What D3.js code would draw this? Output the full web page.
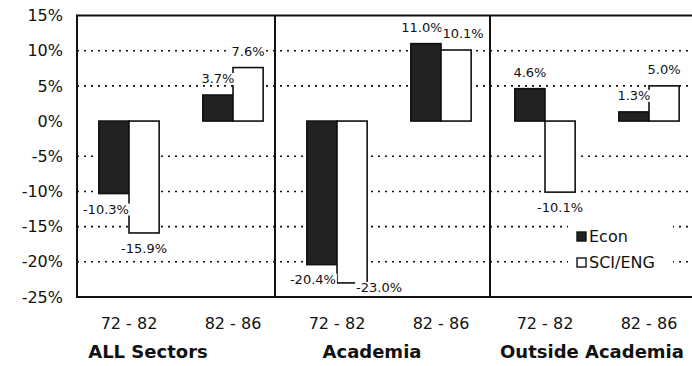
<!DOCTYPE html>
<html>
<head>
<meta charset="utf-8">
<script src="https://cdn.jsdelivr.net/npm/d3@7"></script>
<style>
  body { margin: 0; background: #fff; }
  svg { display: block; font-family: "DejaVu Sans", sans-serif; }
</style>
</head>
<body>
<div id="chart"></div>
<script>
// data
var periods = ["72 - 82", "82 - 86", "72 - 82", "82 - 86", "72 - 82", "82 - 86"];
var sectors = ["ALL Sectors", "Academia", "Outside Academia"];
var seriesNames = ["Econ", "SCI/ENG"];
var econValues = [-10.3, 3.7, -20.4, 11.0, 4.6, 1.3];
var sciValues = [-15.9, 7.6, -23.0, 10.1, -10.1, 5.0];
var yTicks = [15, 10, 5, 0, -5, -10, -15, -20, -25];
var gridTicks = [10, 5, -5, -10, -15, -20];

var width = 692, height = 366;
var margin = {top: 15.5, right: 0, bottom: 69, left: 77};
var innerWidth = width - margin.left - margin.right;
var innerHeight = height - margin.top - margin.bottom;
// the scanned plot area runs a little past the right edge of the picture
var plotWidth = innerWidth + 9;

var svg = d3.select("#chart").append("svg")
    .attr("width", width)
    .attr("height", height);
var chartGroup = svg.append("g")
    .attr("transform", "translate(" + margin.left + "," + margin.top + ")");

var keys = periods.map(function(d, i) { return i; });
var xScale = d3.scaleBand()
    .domain(keys)
    .range([0, plotWidth])
    .paddingInner(0.42)
    .paddingOuter(0.21);
var xInner = d3.scaleBand()
    .domain(seriesNames)
    .range([0, xScale.bandwidth()]);
var yScale = d3.scaleLinear()
    .domain([-25, 15])
    .range([innerHeight, 0]);

// dotted gridlines
chartGroup.append("g").selectAll("line").data(gridTicks)
    .enter().append("line")
    .attr("x1", 0)
    .attr("x2", innerWidth)
    .attr("y1", function(d) { return yScale(d); })
    .attr("y2", function(d) { return yScale(d); })
    .attr("stroke", "#111")
    .attr("stroke-width", 1.6)
    .attr("stroke-dasharray", "2,5");

// y axis labels
var yAxis = d3.axisLeft(yScale)
    .tickValues(yTicks)
    .tickSize(0)
    .tickPadding(14)
    .tickFormat(function(d) { return d + "%"; });
var yAxisG = chartGroup.append("g").call(yAxis);
yAxisG.select(".domain").remove();
yAxisG.selectAll("text")
    .attr("font-family", "DejaVu Sans, sans-serif")
    .attr("font-size", 16)
    .attr("fill", "#111");

// bars
var rows = keys.map(function(i) {
    return [
        {key: i, series: "Econ", value: econValues[i]},
        {key: i, series: "SCI/ENG", value: sciValues[i]}
    ];
});
var barGroups = chartGroup.append("g").selectAll("g").data(rows)
    .enter().append("g")
    .attr("transform", function(d, i) { return "translate(" + xScale(i) + ",0)"; });
barGroups.selectAll("rect").data(function(d) { return d; })
    .enter().append("rect")
    .attr("x", function(d) { return xInner(d.series); })
    .attr("width", xInner.bandwidth())
    .attr("y", function(d) { return yScale(Math.max(0, d.value)); })
    .attr("height", function(d) { return Math.abs(yScale(d.value) - yScale(0)); })
    .attr("fill", function(d) { return d.series === "Econ" ? "#222" : "#fff"; })
    .attr("stroke", "#111")
    .attr("stroke-width", 1.6);

// value labels (small nudges where the original moved them)
var labelNudge = {"0-Econ": [-8, 0], "2-Econ": [-9, -1], "2-SCI/ENG": [27, -11], "3-Econ": [-4, 0], "3-SCI/ENG": [7, 0]};
var labels = barGroups.selectAll("g.lbl").data(function(d) { return d; })
    .enter().append("g")
    .attr("class", "lbl");
labels.append("text")
    .attr("x", function(d) {
        var n = labelNudge[d.key + "-" + d.series] || [0, 0];
        return xInner(d.series) + xInner.bandwidth() / 2 + n[0];
    })
    .attr("y", function(d) {
        var n = labelNudge[d.key + "-" + d.series] || [0, 0];
        return (d.value >= 0 ? yScale(d.value) - 12 : yScale(d.value) + 20) + n[1];
    })
    .attr("text-anchor", "middle")
    .attr("font-size", 13)
    .attr("fill", "#111")
    .text(function(d) { return d.value.toFixed(1) + "%"; });
// white backing so dotted gridlines stop at the labels
labels.each(function() {
    var g = d3.select(this);
    var b = g.select("text").node().getBBox();
    g.insert("rect", "text")
        .attr("x", b.x - 1).attr("y", b.y + 2)
        .attr("width", b.width + 2).attr("height", b.height - 3)
        .attr("fill", "#fff");
});

// frame: left, top and bottom (the right side is off the picture)
var frame = d3.path();
frame.moveTo(innerWidth, 0);
frame.lineTo(0, 0);
frame.lineTo(0, innerHeight);
frame.lineTo(innerWidth, innerHeight);
chartGroup.append("path")
    .attr("d", frame.toString())
    .attr("fill", "none")
    .attr("stroke", "#111")
    .attr("stroke-width", 2);
var dividerNudge = [-10, -3];
chartGroup.append("g").selectAll("line").data([1, 3])
    .enter().append("line")
    .attr("x1", function(d, i) { return (xScale(d) + xScale(d + 1) + xScale.bandwidth()) / 2 + dividerNudge[i]; })
    .attr("x2", function(d, i) { return (xScale(d) + xScale(d + 1) + xScale.bandwidth()) / 2 + dividerNudge[i]; })
    .attr("y1", 0)
    .attr("y2", innerHeight)
    .attr("stroke", "#111")
    .attr("stroke-width", 2);

// category labels
chartGroup.append("g").selectAll("text").data(keys)
    .enter().append("text")
    .attr("x", function(d) { return xScale(d) + xScale.bandwidth() / 2; })
    .attr("y", innerHeight + 32)
    .attr("text-anchor", "middle")
    .attr("font-size", 16)
    .attr("fill", "#111")
    .text(function(d) { return periods[d]; });

var sectorNudge = [-33, -17, -5];
chartGroup.append("g").selectAll("text").data(sectors)
    .enter().append("text")
    .attr("x", function(d, i) {
        var a = xScale(i * 2), b = xScale(i * 2 + 1);
        return (a + b + xScale.bandwidth()) / 2 + sectorNudge[i];
    })
    .attr("y", innerHeight + 61)
    .attr("text-anchor", "middle")
    .attr("font-size", 18)
    .attr("font-weight", "bold")
    .attr("fill", "#111")
    .text(function(d) { return d; });

// legend
var legend = chartGroup.append("g")
    .attr("transform", "translate(" + (568 - margin.left) + "," + (222 - margin.top) + ")");
legend.append("rect")
    .attr("width", 105).attr("height", 54)
    .attr("fill", "#fff");
var legendItems = legend.selectAll("g.item").data(seriesNames)
    .enter().append("g")
    .attr("class", "item")
    .attr("transform", function(d, i) { return "translate(9," + (10 + i * 26) + ")"; });
legendItems.append("rect")
    .attr("width", 9).attr("height", 9)
    .attr("fill", function(d) { return d === "Econ" ? "#222" : "#fff"; })
    .attr("stroke", "#111")
    .attr("stroke-width", 1.4);
legendItems.append("text")
    .attr("x", 12)
    .attr("y", 10)
    .attr("font-size", 16)
    .attr("fill", "#111")
    .text(function(d) { return d; });
</script>
</body>
</html>
